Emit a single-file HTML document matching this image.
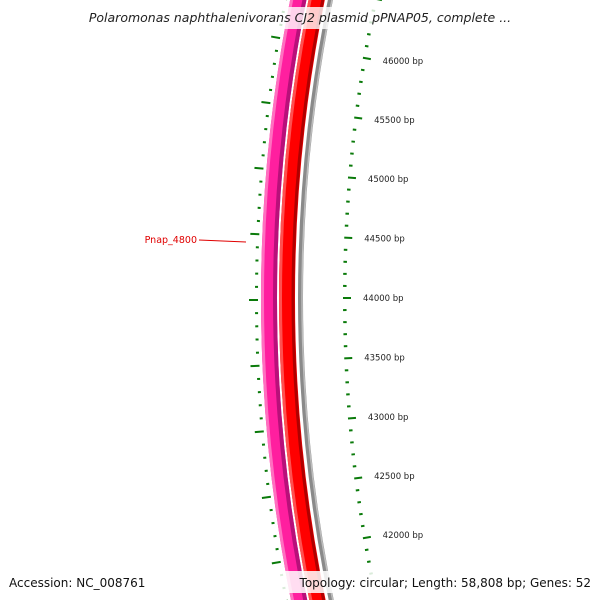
<!DOCTYPE html>
<html><head><meta charset="utf-8"><style>
body{margin:0;width:600px;height:600px;overflow:hidden;background:#fff;font-family:"DejaVu Sans","Liberation Sans",sans-serif}
svg{display:block;overflow:hidden}
</style></head><body>
<svg id="map" width="600" height="600" viewBox="0 0 600 600" xmlns="http://www.w3.org/2000/svg">
  <g id="arcs">
    <circle cx="1800" cy="298" r="1531" fill="none" stroke="#ff1f9f" stroke-width="16"/>
    <circle cx="1800" cy="298" r="1537.5" fill="none" stroke="#ff70c0" stroke-width="3"/>
    <circle cx="1800" cy="298" r="1525" fill="none" stroke="#b8107a" stroke-width="4"/>
    <circle cx="1800" cy="298" r="1513" fill="none" stroke="#ff0000" stroke-width="16"/>
    <circle cx="1800" cy="298" r="1519.5" fill="none" stroke="#ff5050" stroke-width="3"/>
    <circle cx="1800" cy="298" r="1507" fill="none" stroke="#b00000" stroke-width="3"/>
    <circle cx="1800" cy="298" r="1499.5" fill="none" stroke="#8a8a8a" stroke-width="5"/>
    <circle cx="1800" cy="298" r="1498" fill="none" stroke="#bdbdbd" stroke-width="1.5"/>
  </g>
  <g id="ticks"></g>
  <g id="labels"></g>
  <line x1="199" y1="240" x2="246" y2="242" stroke="#e00000" stroke-width="1"/>
  <text x="197" y="243" text-anchor="end" font-size="9.5" fill="#e00000" font-family="DejaVu Sans, sans-serif">Pnap_4800</text>
  <rect x="66" y="7" width="468" height="22" fill="#fff" fill-opacity="0.8"/>
  <text x="300" y="22" text-anchor="middle" font-size="12.5" font-style="italic" fill="#222">Polaromonas naphthalenivorans CJ2 plasmid pPNAP05, complete ...</text>
  <rect x="270" y="571" width="326" height="22" fill="#fff" fill-opacity="0.85"/>
  <text x="9" y="587" font-size="12" fill="#111">Accession: NC_008761</text>
  <text x="591" y="587" text-anchor="end" font-size="12" fill="#111">Topology: circular; Length: 58,808 bp; Genes: 52</text>
</svg>
<script>
const tickLabels = [42000, 42500, 43000, 43500, 44000, 44500, 45000, 45500, 46000];
const rulerStart = [41700];
const rulerEnd = [46500];
const cx = 1800, cy = 298, NS = "http://www.w3.org/2000/svg";
const refBp = 44000;
const radPerBp = (60.25 / 1455) / 500;
function ang(bp){ return (bp - refBp) * radPerBp; }
function pt(r, a){ return [cx - r*Math.cos(a), cy - r*Math.sin(a)]; }
const tg = document.getElementById('ticks');
const lg = document.getElementById('labels');
for (let bp = rulerStart[0]; bp <= rulerEnd[0]; bp += 100) {
  const major = bp % 500 === 0;
  const a = ang(bp);
  const p1 = pt(1457, a), p2 = pt(major ? 1449 : 1453.5, a);
  const l = document.createElementNS(NS, 'line');
  
  
  l.setAttribute('x1', p1[0]); l.setAttribute('y1', p1[1]);
  l.setAttribute('x2', p2[0]); l.setAttribute('y2', p2[1]);
  l.setAttribute('stroke', '#0a7a0a'); l.setAttribute('stroke-width', '2');
  tg.appendChild(l);
}
tickLabels.forEach(bp => {
  const p = pt(1437, ang(bp));
  const t = document.createElementNS(NS, 'text');
  
  
  t.setAttribute('x', p[0]); t.setAttribute('y', p[1] + 3);
  t.setAttribute('font-size', '8.5'); t.setAttribute('fill', '#222');
  t.textContent = bp + ' bp';
  lg.appendChild(t);
});
// outer (left) ruler ring
const leftStep = 66 / 1547 / 5;
const leftRef = Math.asin((298 - 300) / 1547);
for (let i = -25; i <= 25; i++) {
  const major = i % 5 === 0;
  const a = leftRef + i * leftStep;
  const p1 = pt(1542, a), p2 = pt(major ? 1551 : 1545, a);
  const l = document.createElementNS(NS, 'line');
  
  
  l.setAttribute('x1', p1[0]); l.setAttribute('y1', p1[1]);
  l.setAttribute('x2', p2[0]); l.setAttribute('y2', p2[1]);
  l.setAttribute('stroke', '#0a7a0a'); l.setAttribute('stroke-width', '2');
  tg.appendChild(l);
}
</script>
</body></html>
